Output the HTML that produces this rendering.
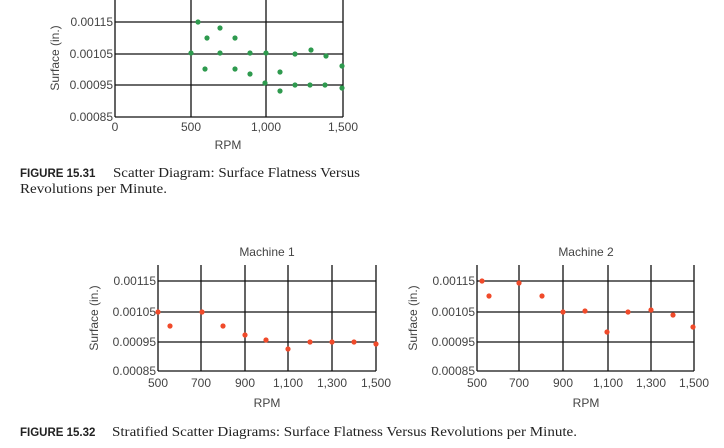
<!DOCTYPE html>
<html><head><meta charset="utf-8"><style>
html,body{margin:0;padding:0;background:#fff;}
svg{display:block;}
.t{font-family:"Liberation Sans",sans-serif;font-size:12px;fill:#444;}
.c{font-family:"Liberation Serif",serif;font-size:13.5px;fill:#222;}
.b{font-family:"Liberation Sans",sans-serif;font-size:11.5px;font-weight:bold;fill:#222;}
</style></head><body>
<svg width="724" height="448" viewBox="0 0 724 448" xmlns="http://www.w3.org/2000/svg">
<!-- Top chart -->
<g stroke="#111" stroke-width="1.3" fill="none">
<line x1="115" y1="0" x2="115" y2="117"/>
<line x1="191" y1="0" x2="191" y2="117"/>
<line x1="266" y1="0" x2="266" y2="117"/>
<line x1="343" y1="0" x2="343" y2="117"/>
<line x1="115" y1="22" x2="343" y2="22"/>
<line x1="115" y1="54" x2="343" y2="54"/>
<line x1="115" y1="85" x2="343" y2="85"/>
<line x1="115" y1="117" x2="343" y2="117"/>
</g>
<g class="t" text-anchor="end">
<text x="113" y="26">0.00115</text>
<text x="113" y="58">0.00105</text>
<text x="113" y="89">0.00095</text>
<text x="113" y="121">0.00085</text>
</g>
<g class="t" text-anchor="middle">
<text x="115" y="131">0</text>
<text x="191" y="131">500</text>
<text x="266" y="131">1,000</text>
<text x="343" y="131">1,500</text>
<text x="228" y="149">RPM</text>
<text transform="translate(59,58) rotate(-90)">Surface (in.)</text>
</g>
<g fill="#2e9a4e">
<circle cx="191" cy="53" r="2.6"/><circle cx="198" cy="22" r="2.6"/><circle cx="207" cy="38" r="2.6"/>
<circle cx="205" cy="69" r="2.6"/><circle cx="220" cy="28" r="2.6"/><circle cx="220" cy="53" r="2.6"/>
<circle cx="235" cy="38" r="2.6"/><circle cx="235" cy="69" r="2.6"/><circle cx="250" cy="53" r="2.6"/>
<circle cx="250" cy="74" r="2.6"/><circle cx="266" cy="53" r="2.6"/><circle cx="265" cy="83" r="2.6"/>
<circle cx="280" cy="72" r="2.6"/><circle cx="280" cy="91" r="2.6"/><circle cx="295" cy="54" r="2.6"/>
<circle cx="295" cy="85" r="2.6"/><circle cx="311" cy="50" r="2.6"/><circle cx="310" cy="85" r="2.6"/>
<circle cx="326" cy="56" r="2.6"/><circle cx="325" cy="85" r="2.6"/><circle cx="342" cy="66" r="2.6"/>
<circle cx="342" cy="88" r="2.6"/>
</g>
<text class="b" x="20" y="177">FIGURE 15.31</text>
<text class="c" x="113" y="177" textLength="247" lengthAdjust="spacingAndGlyphs">Scatter Diagram: Surface Flatness Versus</text>
<text class="c" x="20" y="193" textLength="147" lengthAdjust="spacingAndGlyphs">Revolutions per Minute.</text>

<!-- Machine 1 -->
<g stroke="#111" stroke-width="1.3" fill="none">
<line x1="158" y1="265" x2="158" y2="371"/>
<line x1="201" y1="265" x2="201" y2="371"/>
<line x1="245" y1="265" x2="245" y2="371"/>
<line x1="288" y1="265" x2="288" y2="371"/>
<line x1="332" y1="265" x2="332" y2="371"/>
<line x1="376" y1="265" x2="376" y2="371"/>
<line x1="158" y1="281" x2="376" y2="281"/>
<line x1="158" y1="312" x2="376" y2="312"/>
<line x1="158" y1="342" x2="376" y2="342"/>
<line x1="158" y1="371" x2="376" y2="371"/>
</g>
<g class="t" text-anchor="end">
<text x="156" y="285">0.00115</text>
<text x="156" y="316">0.00105</text>
<text x="156" y="346">0.00095</text>
<text x="156" y="375">0.00085</text>
</g>
<g class="t" text-anchor="middle">
<text x="158" y="387">500</text><text x="201" y="387">700</text><text x="245" y="387">900</text>
<text x="288" y="387">1,100</text><text x="332" y="387">1,300</text><text x="376" y="387">1,500</text>
<text x="267" y="407">RPM</text>
<text x="267" y="256">Machine 1</text>
<text transform="translate(98,318) rotate(-90)">Surface (in.)</text>
</g>
<g fill="#f04a2a">
<circle cx="158" cy="312" r="2.6"/><circle cx="170" cy="326" r="2.6"/><circle cx="202" cy="312" r="2.6"/>
<circle cx="223" cy="326" r="2.6"/><circle cx="245" cy="335" r="2.6"/><circle cx="266" cy="340" r="2.6"/>
<circle cx="288" cy="349" r="2.6"/><circle cx="310" cy="342" r="2.6"/><circle cx="332" cy="342" r="2.6"/>
<circle cx="354" cy="342" r="2.6"/><circle cx="376" cy="344" r="2.6"/>
</g>

<!-- Machine 2 -->
<g stroke="#111" stroke-width="1.3" fill="none">
<line x1="477" y1="265" x2="477" y2="371"/>
<line x1="519" y1="265" x2="519" y2="371"/>
<line x1="563" y1="265" x2="563" y2="371"/>
<line x1="608" y1="265" x2="608" y2="371"/>
<line x1="651" y1="265" x2="651" y2="371"/>
<line x1="694" y1="265" x2="694" y2="371"/>
<line x1="477" y1="281" x2="694" y2="281"/>
<line x1="477" y1="312" x2="694" y2="312"/>
<line x1="477" y1="342" x2="694" y2="342"/>
<line x1="477" y1="371" x2="694" y2="371"/>
</g>
<g class="t" text-anchor="end">
<text x="475" y="285">0.00115</text>
<text x="475" y="316">0.00105</text>
<text x="475" y="346">0.00095</text>
<text x="475" y="375">0.00085</text>
</g>
<g class="t" text-anchor="middle">
<text x="477" y="387">500</text><text x="519" y="387">700</text><text x="563" y="387">900</text>
<text x="608" y="387">1,100</text><text x="651" y="387">1,300</text><text x="694" y="387">1,500</text>
<text x="586" y="407">RPM</text>
<text x="586" y="256">Machine 2</text>
<text transform="translate(417,318) rotate(-90)">Surface (in.)</text>
</g>
<g fill="#f04a2a">
<circle cx="482" cy="281" r="2.6"/><circle cx="489" cy="296" r="2.6"/><circle cx="519" cy="283" r="2.6"/>
<circle cx="542" cy="296" r="2.6"/><circle cx="563" cy="312" r="2.6"/><circle cx="585" cy="311" r="2.6"/>
<circle cx="607" cy="332" r="2.6"/><circle cx="628" cy="312" r="2.6"/><circle cx="651" cy="310" r="2.6"/>
<circle cx="673" cy="315" r="2.6"/><circle cx="693" cy="327" r="2.6"/>
</g>

<text class="b" x="20" y="436">FIGURE 15.32</text>
<text class="c" x="112" y="436" textLength="465" lengthAdjust="spacingAndGlyphs">Stratified Scatter Diagrams: Surface Flatness Versus Revolutions per Minute.</text>
</svg>
</body></html>
